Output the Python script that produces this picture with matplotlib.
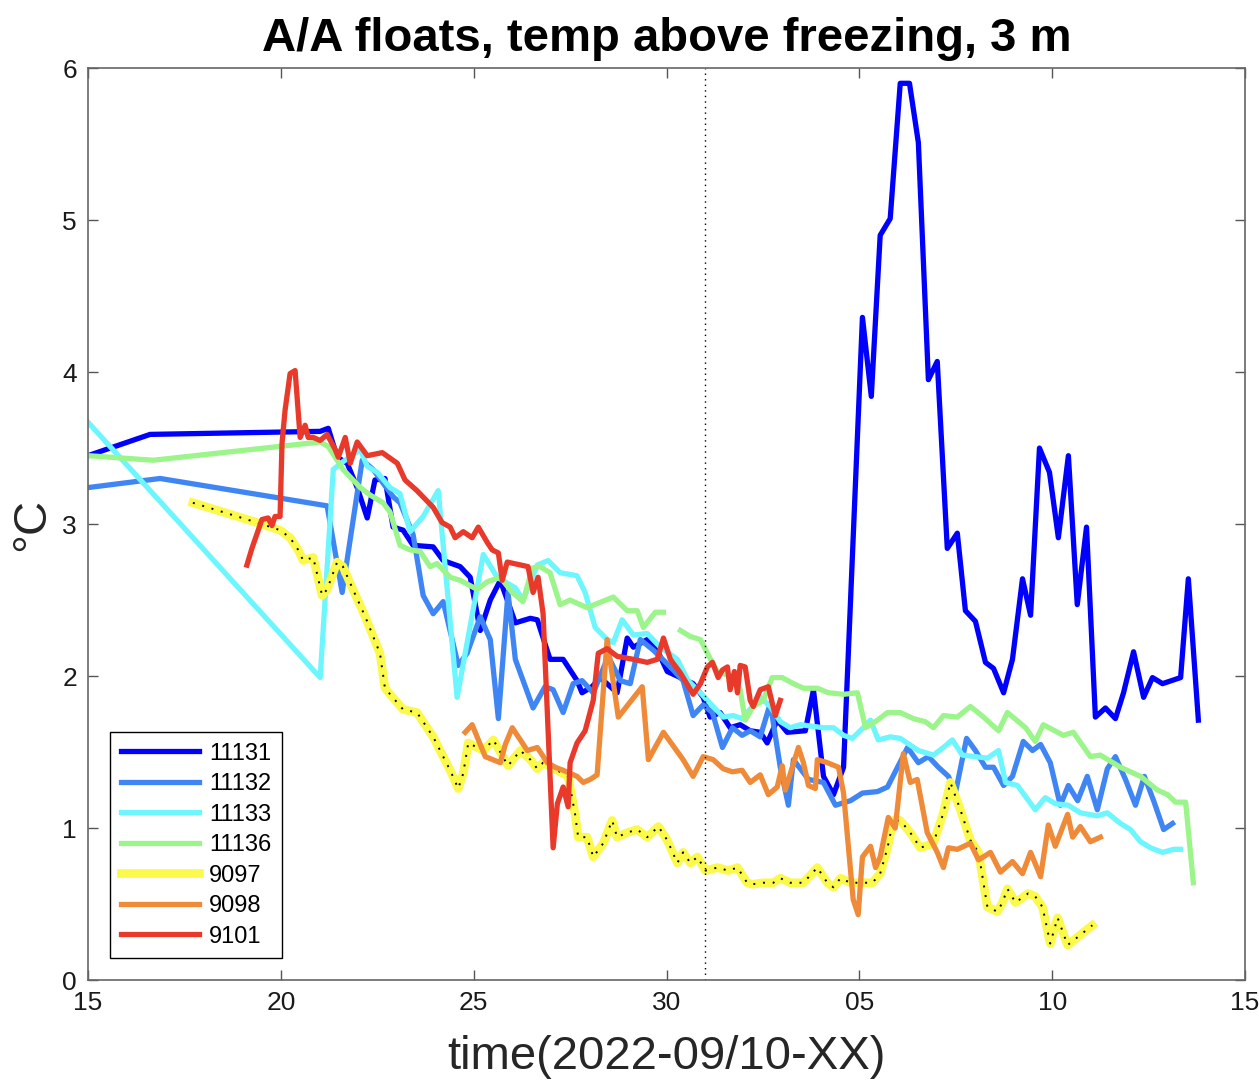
import matplotlib.pyplot as plt
import numpy as np

# x = days since 2022-09-15, y = temperature above freezing (degC)
t_11131 = [0.00, 1.61, 6.02, 6.23, 6.46, 6.72, 6.98, 7.24, 7.44, 7.70, 7.91, 8.17, 8.43, 8.95, 9.21, 9.65,
           9.91, 10.17, 10.43, 10.69, 11.08, 11.47, 11.65, 11.98, 12.32, 12.68, 12.81, 13.07, 13.28, 13.72,
           13.98, 14.14, 14.50, 14.76, 15.02, 15.36, 15.69, 15.95, 16.13, 16.39, 16.65, 16.91, 17.17, 17.43,
           17.61, 17.87, 18.13, 18.60, 18.81, 19.07, 19.33, 19.59, 20.08, 20.31, 20.54, 20.80, 21.06, 21.30,
           21.53, 21.79, 22.02, 22.28, 22.54, 22.75, 23.01, 23.27, 23.48, 23.74, 23.97, 24.23, 24.44, 24.67,
           24.93, 25.16, 25.42, 25.65, 25.89, 26.12, 26.38, 26.64, 26.85, 27.11, 27.37, 27.60, 27.86, 28.33,
           28.53, 28.79]
v_11131 = [3.45, 3.59, 3.61, 3.63, 3.44, 3.40, 3.24, 3.04, 3.29, 3.30, 2.98, 2.96, 2.86, 2.85, 2.76, 2.72,
           2.65, 2.30, 2.50, 2.63, 2.35, 2.38, 2.37, 2.11, 2.11, 1.97, 1.89, 1.93, 1.99, 1.89,
           2.25, 2.19, 2.24, 2.17, 2.03, 1.99, 1.95, 1.86, 1.73, 1.76, 1.66, 1.68, 1.64, 1.63,
           1.56, 1.71, 1.63, 1.64, 1.91, 1.34, 1.22, 1.40, 4.36, 3.84, 4.90, 5.01, 5.90, 5.90,
           5.51, 3.95, 4.07, 2.84, 2.94, 2.43, 2.36, 2.09, 2.05, 1.89, 2.11, 2.64, 2.40, 3.50,
           3.34, 2.91, 3.45, 2.47, 2.98, 1.73, 1.79, 1.72, 1.89, 2.16, 1.86, 1.99, 1.95, 1.99,
           2.64, 1.71]

t_11132 = [0.00, 1.87, 6.20, 6.59, 7.11, 7.39, 7.91, 8.09, 8.43, 8.69, 8.95, 9.21, 9.60, 9.83, 10.17, 10.43,
           10.64, 10.89, 11.08, 11.54, 11.85, 12.06, 12.32, 12.58, 12.81, 13.10, 13.49, 13.80, 14.06, 14.32,
           14.66, 15.10, 15.43, 15.69, 15.95, 16.19, 16.45, 16.71, 16.96, 17.17, 17.43, 17.69, 17.95, 18.16,
           18.29, 18.68, 19.07, 19.38, 19.77, 20.08, 20.47, 20.73, 20.99, 21.25, 21.53, 21.79, 22.05, 22.31,
           22.49, 22.78, 23.01, 23.27, 23.48, 23.74, 23.97, 24.25, 24.49, 24.70, 24.95, 25.21, 25.42, 25.66,
           25.91, 26.17, 26.43, 26.64, 26.90, 27.16, 27.39, 27.63, 27.89, 28.12]
v_11132 = [3.24, 3.30, 3.12, 2.55, 3.42, 3.36, 3.18, 3.14, 2.93, 2.53, 2.41, 2.49, 2.07, 2.15, 2.39, 2.24,
           1.72, 2.55, 2.11, 1.79, 1.93, 1.91, 1.76, 1.95, 1.97, 1.89, 2.13, 1.97, 1.95, 2.24,
           2.17, 2.06, 1.97, 1.74, 1.81, 1.76, 1.53, 1.66, 1.61, 1.64, 1.60, 1.82, 1.40, 1.15,
           1.45, 1.32, 1.30, 1.15, 1.18, 1.23, 1.24, 1.27, 1.40, 1.53, 1.43, 1.47, 1.40, 1.34,
           1.23, 1.59, 1.51, 1.40, 1.40, 1.28, 1.34, 1.57, 1.51, 1.55, 1.43, 1.15, 1.28, 1.18,
           1.34, 1.12, 1.39, 1.47, 1.32, 1.15, 1.34, 1.18, 0.99, 1.03]

t_11133 = [0.00, 6.02, 6.36, 6.61, 7.06, 7.24, 7.50, 7.83, 8.09, 8.35, 8.69, 9.08, 9.57, 10.25, 10.61, 11.08,
           11.28, 11.65, 11.93, 12.24, 12.68, 12.89, 13.15, 13.46, 13.62, 13.85, 14.14, 14.50, 14.84, 15.28,
           15.56, 15.88, 16.13, 16.47, 16.73, 16.96, 17.43, 17.69, 17.95, 18.21, 18.47, 19.07, 19.33, 19.59,
           19.82, 20.10, 20.29, 20.49, 20.80, 21.06, 21.53, 21.92, 22.18, 22.41, 22.67, 23.32, 23.61, 23.79,
           24.10, 24.56, 24.82, 25.08, 25.42, 25.73, 26.17, 26.43, 26.77, 27.03, 27.29, 27.55, 27.86, 28.15,
           28.33]
v_11133 = [3.67, 1.99, 3.36, 3.41, 3.49, 3.38, 3.34, 3.24, 3.20, 2.95, 3.05, 3.22, 1.86, 2.80, 2.65, 2.58,
           2.50, 2.73, 2.76, 2.68, 2.66, 2.55, 2.32, 2.24, 2.22, 2.37, 2.27, 2.28, 2.19, 2.11,
           1.97, 1.89, 1.82, 1.73, 1.74, 1.72, 1.86, 1.80, 1.70, 1.66, 1.68, 1.66, 1.66, 1.61,
           1.59, 1.66, 1.71, 1.58, 1.60, 1.59, 1.51, 1.48, 1.53, 1.58, 1.48, 1.46, 1.51, 1.30,
           1.28, 1.12, 1.20, 1.16, 1.15, 1.10, 1.08, 1.10, 1.03, 0.99, 0.91, 0.87, 0.84, 0.86,
           0.86]

# 11136 has a data gap at the end of September (NaN breaks the line)
t_11136 = [0.00, 1.69, 6.02, 6.23, 6.61, 7.06, 7.32, 7.65, 7.83, 8.09, 8.35, 8.61, 8.87, 9.05, 9.39, 9.65,
           10.09, 10.35, 10.69, 11.00, 11.28, 11.52, 11.72, 11.98, 12.24, 12.50, 12.94, 13.62, 13.98, 14.24,
           14.40, 14.71, 14.92, 15.14,
           15.36, 15.62, 15.88, 16.08, 16.32, 16.65, 16.91, 17.04, 17.25, 17.51, 17.74, 18.00, 18.29, 18.55,
           18.91, 19.20, 19.59, 19.95, 20.16, 20.47, 20.73, 21.06, 21.40, 21.71, 21.92, 22.18, 22.54, 22.88,
           23.22, 23.61, 23.84, 24.31, 24.56, 24.77, 25.29, 25.55, 25.99, 26.25, 26.77, 27.29, 27.73, 27.99,
           28.20, 28.46, 28.66]
v_11136 = [3.45, 3.42, 3.54, 3.51, 3.36, 3.24, 3.19, 3.14, 3.08, 2.86, 2.83, 2.82, 2.72, 2.74, 2.65, 2.63,
           2.57, 2.62, 2.65, 2.55, 2.49, 2.71, 2.72, 2.68, 2.47, 2.50, 2.45, 2.52, 2.43, 2.43,
           2.32, 2.42, 2.42, np.nan,
           2.30, 2.26, 2.24, 2.14, 2.03, 2.00, 1.91, 1.71, 1.80, 1.84, 1.99, 1.99, 1.95, 1.92,
           1.92, 1.89, 1.88, 1.89, 1.66, 1.71, 1.76, 1.76, 1.72, 1.70, 1.66, 1.74, 1.73, 1.80,
           1.73, 1.64, 1.76, 1.66, 1.57, 1.68, 1.61, 1.63, 1.47, 1.48, 1.40, 1.34, 1.25, 1.22,
           1.17, 1.17, 0.64]

t_9097 = [2.72, 4.38, 4.98, 5.24, 5.45, 5.58, 5.84, 6.07, 6.20, 6.46, 6.61, 6.87, 7.19, 7.57, 7.70, 8.17,
          8.53, 8.95, 9.39, 9.60, 9.73, 9.86, 10.25, 10.51, 10.89, 11.21, 11.47, 11.65, 11.80, 12.45,
          12.63, 12.71, 12.94, 13.10, 13.36, 13.59, 13.72, 13.98, 14.24, 14.50, 14.79, 15.02, 15.28, 15.43,
          15.62, 15.80, 16.01, 16.32, 16.60, 16.84, 17.09, 17.22, 17.51, 17.77, 17.95, 18.21, 18.55, 18.91,
          19.17, 19.33, 19.51, 19.77, 20.03, 20.34, 20.54, 20.73, 20.88, 21.06, 21.32, 21.58, 21.92, 22.18,
          22.36, 22.62, 22.88, 23.09, 23.32, 23.58, 23.71, 23.84, 24.05, 24.38, 24.56, 24.75, 24.95, 25.14,
          25.40, 25.55, 26.04]
v_9097 = [3.14, 3.01, 2.96, 2.91, 2.83, 2.76, 2.78, 2.53, 2.57, 2.75, 2.72, 2.57, 2.39, 2.15, 1.92, 1.78,
          1.76, 1.60, 1.38, 1.26, 1.36, 1.56, 1.51, 1.58, 1.41, 1.51, 1.45, 1.39, 1.43, 1.34,
          1.09, 0.94, 0.94, 0.81, 0.90, 1.05, 0.94, 0.97, 0.99, 0.94, 1.01, 0.92, 0.77, 0.84,
          0.77, 0.81, 0.72, 0.74, 0.72, 0.74, 0.64, 0.63, 0.64, 0.64, 0.67, 0.64, 0.64, 0.74,
          0.64, 0.61, 0.67, 0.64, 0.64, 0.64, 0.70, 0.87, 1.05, 1.05, 0.97, 0.87, 0.90, 1.10,
          1.30, 1.12, 0.92, 0.84, 0.48, 0.45, 0.51, 0.60, 0.51, 0.57, 0.55, 0.48, 0.24, 0.41,
          0.23, 0.26, 0.36]

t_9098 = [9.78, 9.96, 10.17, 10.30, 10.69, 10.82, 11.00, 11.21, 11.39, 11.65, 11.91, 12.11, 12.32, 12.68,
          12.84, 13.02, 13.20, 13.46, 13.75, 14.37, 14.53, 14.92, 15.43, 15.69, 15.95, 16.21, 16.47, 16.71,
          16.96, 17.17, 17.43, 17.64, 17.87, 18.00, 18.08, 18.42, 18.55, 18.68, 18.86, 18.91, 19.17, 19.46,
          19.59, 19.84, 19.97, 20.08, 20.29, 20.42, 20.54, 20.75, 20.93, 21.14, 21.32, 21.50, 21.76, 22.02,
          22.18, 22.31, 22.54, 22.88, 23.09, 23.40, 23.66, 23.97, 24.23, 24.44, 24.70, 24.90, 25.08, 25.40,
          25.53, 25.73, 25.99, 26.25]
v_9098 = [1.63, 1.68, 1.55, 1.47, 1.43, 1.55, 1.66, 1.58, 1.51, 1.53, 1.43, 1.40, 1.38, 1.34,
          1.30, 1.32, 1.35, 2.24, 1.73, 1.93, 1.45, 1.63, 1.45, 1.34, 1.47, 1.45, 1.39, 1.37,
          1.38, 1.30, 1.35, 1.22, 1.27, 1.41, 1.25, 1.53, 1.43, 1.28, 1.26, 1.45, 1.43, 1.40,
          1.23, 0.53, 0.43, 0.81, 0.88, 0.74, 0.81, 1.07, 1.00, 1.49, 1.30, 1.32, 0.97, 0.84,
          0.74, 0.87, 0.86, 0.90, 0.79, 0.84, 0.71, 0.78, 0.70, 0.84, 0.68, 1.02, 0.88, 1.09,
          0.94, 1.01, 0.91, 0.94]

t_9101 = [4.12, 4.25, 4.51, 4.67, 4.77, 4.85, 4.98, 5.03, 5.11, 5.24, 5.37, 5.50, 5.63, 5.71, 5.84, 6.02,
          6.20, 6.41, 6.49, 6.67, 6.80, 6.98, 7.24, 7.63, 8.02, 8.22, 8.53, 8.95, 9.18, 9.39, 9.52, 9.73,
          9.96, 10.12, 10.35, 10.48, 10.64, 10.74, 10.87, 11.41, 11.54, 11.67, 11.80, 12.06, 12.17, 12.32,
          12.45, 12.50, 12.68, 12.89, 13.10, 13.23, 13.46, 13.72, 14.14, 14.50, 14.76, 14.92, 15.10, 15.36,
          15.69, 15.88, 16.06, 16.19, 16.34, 16.45, 16.58, 16.65, 16.76, 16.84, 16.91, 17.04, 17.17, 17.25,
          17.43, 17.64, 17.82, 17.95]
v_9101 = [2.73, 2.84, 3.03, 3.04, 2.99, 3.05, 3.05, 3.53, 3.75, 3.99, 4.01, 3.57, 3.65, 3.57, 3.57, 3.55,
          3.59, 3.49, 3.44, 3.57, 3.40, 3.54, 3.45, 3.47, 3.40, 3.29, 3.22, 3.11, 3.01, 2.98, 2.91, 2.95,
          2.91, 2.98, 2.88, 2.83, 2.81, 2.63, 2.75, 2.72, 2.55, 2.65, 2.41, 0.87, 1.16, 1.27,
          1.14, 1.43, 1.56, 1.64, 1.84, 2.15, 2.18, 2.13, 2.11, 2.09, 2.11, 2.25, 2.11, 2.02,
          1.88, 1.95, 2.06, 2.09, 1.99, 2.04, 2.06, 1.91, 2.03, 1.89, 2.07, 2.06, 1.84, 1.80,
          1.91, 1.93, 1.74, 1.84]

series = [
    ("11131", t_11131, v_11131, "#0000FF"),
    ("11132", t_11132, v_11132, "#3F86F4"),
    ("11133", t_11133, v_11133, "#6EF6FF"),
    ("11136", t_11136, v_11136, "#9CF58A"),
    ("9097", t_9097, v_9097, "#FBF94A"),
    ("9098", t_9098, v_9098, "#EF8A38"),
    ("9101", t_9101, v_9101, "#E8392A"),
]

tick_pos = [0, 5, 10, 15, 20, 25, 30]
tick_labels = ["15", "20", "25", "30", "05", "10", "15"]
oct_first = 16

plt.rcParams["font.family"] = ["Liberation Sans", "DejaVu Sans"]

fig = plt.figure(figsize=(12.59, 10.81), dpi=100)
ax = fig.add_axes([0.0699, 0.0934, 0.919, 0.8436])

for name, t, v, c in series:
    if name == "9097":
        ax.plot(t, v, color=c, lw=6.2, label=name)
        ax.plot(t, v, color="black", lw=1.4, ls=(0, (1, 4)))
    else:
        ax.plot(t, v, color=c, lw=3.8, label=name)

ax.axvline(oct_first, color="black", lw=1, ls=(0, (1, 3)))

ax.set_xlim(0, 30)
ax.set_ylim(0, 6)
ax.set_xticks(tick_pos)
ax.set_xticklabels(tick_labels)
ax.set_yticks(range(7))
ax.tick_params(direction="in", length=7, width=1, top=True, right=True,
               labelsize=19, colors="#555555", labelcolor="#1a1a1a", pad=8)
for s in ax.spines.values():
    s.set_color("#666666")
    s.set_linewidth(1.2)

ax.set_title("A/A floats, temp above freezing, 3 m", fontsize=34, fontweight="bold", pad=12)
ax.set_xlabel("time(2022-09/10-XX)", fontsize=34, color="#262626", labelpad=14)
ax.set_ylabel("°C", fontsize=34, color="#262626", labelpad=6)

leg = ax.legend(loc="lower left", bbox_to_anchor=(0.019, 0.024), borderaxespad=0, fontsize=17,
                handlelength=3.3, labelspacing=0.36, fancybox=False, framealpha=1,
                edgecolor="black", borderpad=0.45, handletextpad=0.45)
leg.get_frame().set_linewidth(1)

fig.savefig("out.png", dpi=100)
